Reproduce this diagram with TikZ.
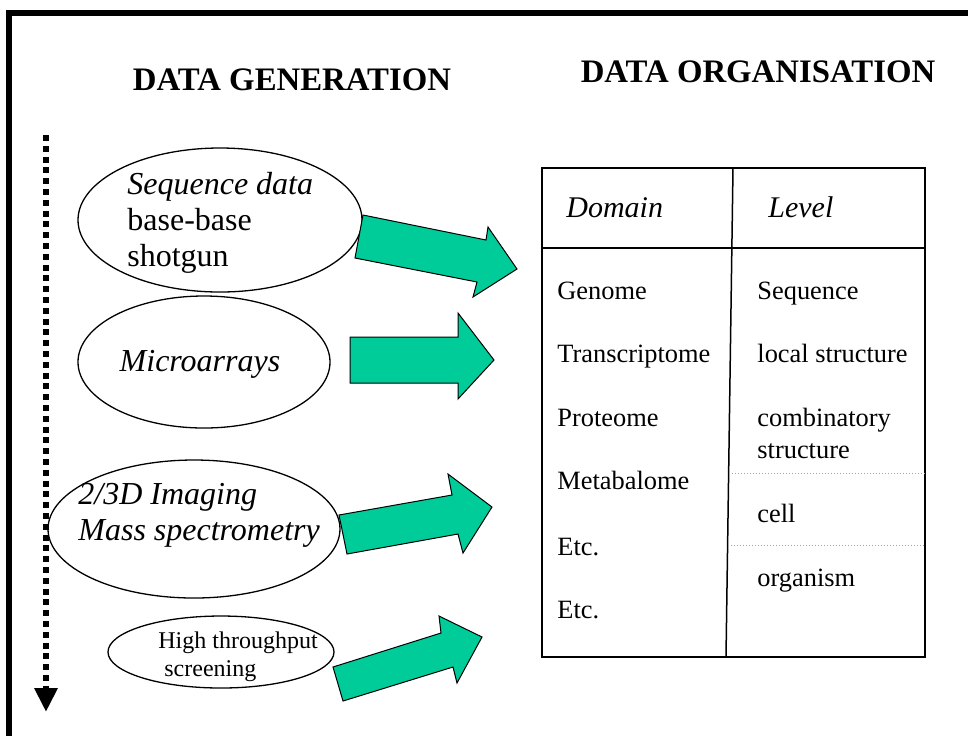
\documentclass[tikz,border=0pt]{standalone}
\usepackage{fontspec}
\setmainfont{Liberation Serif}
\usetikzlibrary{arrows.meta,shapes.geometric}
\definecolor{blockgreen}{RGB}{0,204,153}

\begin{document}
\begin{tikzpicture}[x=0.5pt, y=-0.5pt,
  every node/.style={font=\fontsize{16}{18}\selectfont, inner sep=0pt},
  title/.style={font=\fontsize{16.4}{19}\selectfont\bfseries, anchor=base},
  blob/.style={draw, ellipse, line width=0.65pt},
  txt/.style={align=left, anchor=west},
  cell/.style={font=\fontsize{13.2}{16}\selectfont, anchor=base west},
  head/.style={font=\fontsize{15}{18}\selectfont\itshape, anchor=base west},
  garrow/.style={draw=black, fill=blockgreen, line width=0.5pt, line join=miter},
  tline/.style={line width=0.75pt},
  sepline/.style={draw=gray!70, line width=0.5pt, densely dotted},
  timeline/.style={line width=3pt, dash pattern=on 3pt off 2.4pt,
    -{Triangle[length=12pt,width=11pt]}},
  frame/.style={line width=2.6pt, line join=miter}
]
\useasboundingbox (0,0) rectangle (968,736);

%% frame
\coordinate (fright) at (968,13);
\coordinate (fcorner) at (9,13);
\coordinate (fbottom) at (9,736);
\draw[frame] (fright) -- (fcorner) -- (fbottom);

%% titles
\node[title] (gen) at (292,90) {DATA GENERATION};
\node[title] (org) at (758,82) {DATA ORGANISATION};

%% time axis
\coordinate (ttop) at (46,135);
\coordinate (tend) at (46,712);
\draw[timeline] (ttop) -- (tend);

%% data sources
\node[blob, minimum width=142pt, minimum height=72pt] (seq) at (220,220) {};
\node[txt] (seqtxt) at (127,223) {\textit{Sequence data}\\base-base\\shotgun};

\node[blob, minimum width=126pt, minimum height=66pt] (micro) at (204,362) {};
\node (microtxt) at (200,364) {\textit{Microarrays}};

\node[blob, minimum width=146pt, minimum height=69pt] (img) at (194,529) {};
\node[txt] (imgtxt) at (78,515) {\textit{2/3D Imaging}\\\textit{Mass spectrometry}};

\node[blob, minimum width=113pt, minimum height=36pt] (hts) at (221,652) {};
\node[txt, font=\fontsize{12}{14}\selectfont] (htstxt) at (158,657)
  {High throughput\\\hspace*{3pt}screening};

%% block arrows
\draw[garrow] (363,215) -- (486,240) -- (488,227) -- (517,269)
  -- (473,297) -- (477,282) -- (355,258) -- cycle;
\draw[garrow] (350,337) -- (458,337) -- (458,313) -- (494,360)
  -- (458,399) -- (458,383) -- (350,383) -- cycle;
\draw[garrow] (339,515) -- (452,495) -- (448,474) -- (492,507)
  -- (463,553) -- (458,534) -- (347,554) -- cycle;
\draw[garrow] (333,667) -- (441,633) -- (439,616) -- (482,637)
  -- (457,683) -- (453,667) -- (343,701) -- cycle;

%% table
\coordinate (tnw) at (542,168);
\coordinate (tse) at (925,657);
\coordinate (hl) at (542,248);
\coordinate (hr) at (925,248);
\coordinate (dtop) at (733,168);
\coordinate (dbot) at (726,657);
\draw[tline] (tnw) rectangle (tse);
\draw[tline] (hl) -- (hr);
\draw[tline] (dtop) -- (dbot);
\coordinate (s1l) at (728.6,473);
\coordinate (s1r) at (925,473);
\coordinate (s2l) at (727.6,545);
\coordinate (s2r) at (925,545);
\draw[sepline] (s1l) -- (s1r);
\draw[sepline] (s2l) -- (s2r);

\node[head] (hdom) at (566,217) {Domain};
\node[head] (hlev) at (768,217) {Level};

\node[cell] (d1) at (557,299) {Genome};
\node[cell] (d2) at (557,362) {Transcriptome};
\node[cell] (d3) at (557,426) {Proteome};
\node[cell] (d4) at (557,489) {Metabalome};
\node[cell] (d5) at (557,555) {Etc.};
\node[cell] (d6) at (557,618) {Etc.};

\node[cell] (l1) at (757,299) {Sequence};
\node[cell] (l2) at (757,362) {local structure};
\node[cell] (l3) at (757,426) {combinatory};
\node[cell] (l3b) at (757,458) {structure};
\node[cell] (l4) at (757,522) {cell};
\node[cell] (l5) at (757,586) {organism};

\end{tikzpicture}
\end{document}
